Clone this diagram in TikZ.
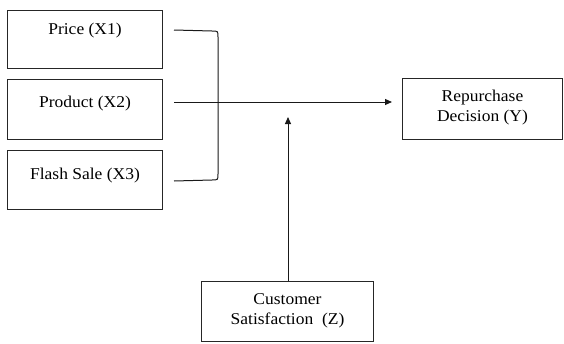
\documentclass[tikz,border=0pt]{standalone}
\usepackage{fontspec}
\setmainfont{Liberation Serif}[FakeStretch=1.06]
\usetikzlibrary{arrows.meta}
\begin{document}
\begin{tikzpicture}[x=1pt,y=-1pt,
  box/.style={draw=black!85, line width=1pt, minimum width=#1, inner sep=0pt, anchor=north west},
  box/.default=155,
  lbl/.style={anchor=north, inner sep=0pt, font=\fontsize{16.5}{20}\selectfont, align=center},
  conn/.style={line width=1pt, black!90},
  tip/.style={-{Triangle[length=7pt,width=6pt]}}]
\useasboundingbox (0,0) rectangle (564,343);
% left boxes
\node[box, minimum height=58] (x1) at (7,10) {};
\node[lbl] (x1t) at ([yshift=-13]x1.north) {Price (X1)};
\node[box, minimum height=60] (x2) at (7,79) {};
\node[lbl] (x2t) at ([yshift=-17]x2.north) {Product (X2)};
\node[box, minimum height=59] (x3) at (7,150) {};
\node[lbl] (x3t) at ([yshift=-18]x3.north) {Flash Sale (X3)};
% right box
\node[box=160, minimum height=61] (y) at (402,78) {};
\node[lbl] (yt) at ([yshift=-12]y.north) {Repurchase\\Decision (Y)};
% bottom box
\node[box=172, minimum height=60] (z) at (201,281) {};
\node[lbl] (zt) at ([yshift=-12]z.north) {Customer\\Satisfaction~~(Z)};
% bracket
\coordinate (b1) at (174,30);
\coordinate (b3) at (174,181);
\draw[conn] (b1) -- (212,31) .. controls (218,31) .. (218,37) -- (218,174) .. controls (218,180) .. (212,180) -- (b3);
% main arrow
\coordinate (a0) at (174,102);
\draw[conn, tip] (a0) -- ([xshift=-10]y.west |- a0);
% vertical arrow
\coordinate (zc) at (288,281);
\draw[conn, tip] (zc) -- (288,117);
\end{tikzpicture}
\end{document}
